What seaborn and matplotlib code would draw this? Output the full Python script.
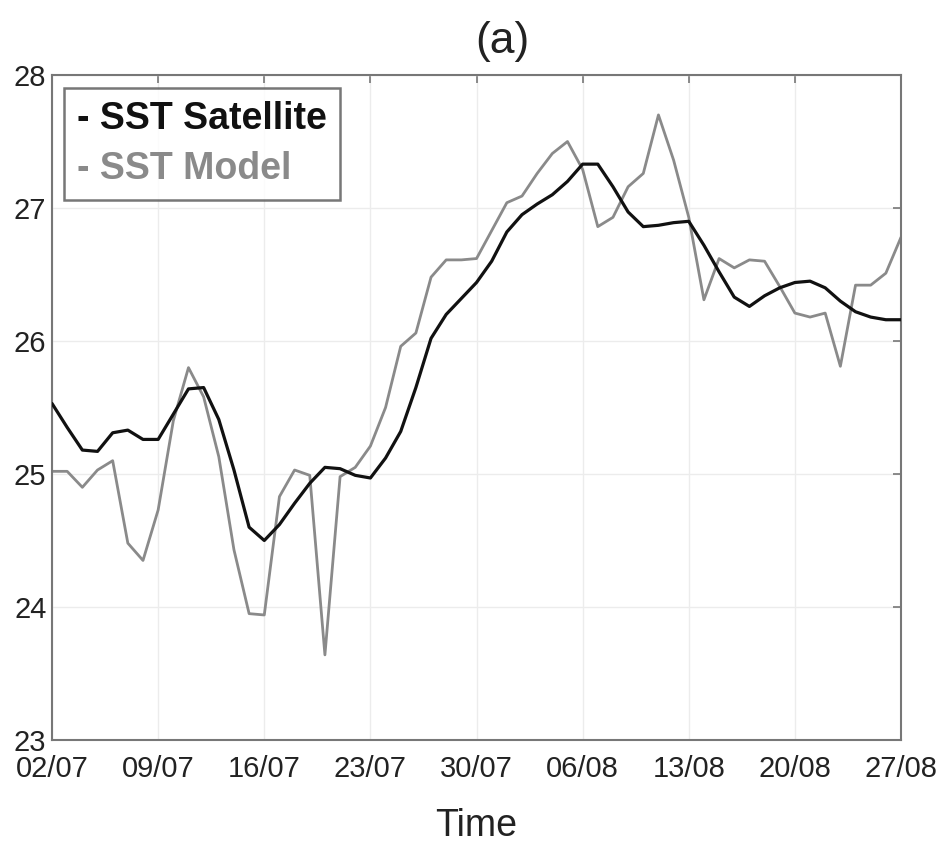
import numpy as np
import pandas as pd
import matplotlib
matplotlib.use("Agg")
import matplotlib.pyplot as plt
import seaborn as sns

# Day index from 02/07 (day 0) to 27/08 (day 56)
days = list(range(57))
tick_days = [0, 7, 14, 21, 28, 35, 42, 49, 56]
tick_labels = ["02/07", "09/07", "16/07", "23/07", "30/07", "06/08", "13/08", "20/08", "27/08"]

sst_satellite = [25.53, 25.35, 25.18, 25.17, 25.31, 25.33, 25.26, 25.26, 25.45, 25.64,
                 25.65, 25.41, 25.03, 24.60, 24.50, 24.62, 24.78, 24.93, 25.05, 25.04,
                 24.99, 24.97, 25.12, 25.32, 25.65, 26.02, 26.20, 26.32, 26.44, 26.60,
                 26.82, 26.95, 27.03, 27.10, 27.20, 27.33, 27.33, 27.16, 26.97, 26.86,
                 26.87, 26.89, 26.90, 26.72, 26.52, 26.33, 26.26, 26.34, 26.40, 26.44,
                 26.45, 26.40, 26.30, 26.22, 26.18, 26.16, 26.16]

sst_model = [25.02, 25.02, 24.90, 25.03, 25.10, 24.48, 24.35, 24.73, 25.40, 25.80,
             25.58, 25.13, 24.43, 23.95, 23.94, 24.83, 25.03, 24.99, 23.64, 24.98,
             25.05, 25.21, 25.50, 25.96, 26.06, 26.48, 26.61, 26.61, 26.62, 26.83,
             27.04, 27.09, 27.26, 27.41, 27.50, 27.29, 26.86, 26.93, 27.16, 27.26,
             27.70, 27.36, 26.93, 26.31, 26.62, 26.55, 26.61, 26.60, 26.41, 26.21,
             26.18, 26.21, 25.81, 26.42, 26.42, 26.51, 26.78]

series_names = ["- SST Satellite", "- SST Model"]
series_colors = ["#111111", "#8a8a8a"]

df = pd.DataFrame({
    "day": days * 2,
    "sst": sst_satellite + sst_model,
    "series": [series_names[0]] * len(days) + [series_names[1]] * len(days),
})

sns.set_theme(style="white")
plt.rcParams["font.family"] = ["Liberation Sans", "DejaVu Sans"]

fig = plt.figure(figsize=(9.41, 8.43), dpi=100)
ax = fig.add_axes([0.0553, 0.1222, 0.9022, 0.7888])

sns.lineplot(data=df, x="day", y="sst", hue="series", palette=series_colors,
             hue_order=series_names, ax=ax, legend=False, sort=False)
lines = ax.get_lines()
lines[0].set_linewidth(2.3)
lines[1].set_linewidth(2.0)
lines[0].set_zorder(3)
lines[1].set_zorder(2)

ax.set_xlim(0, 56)
ax.set_ylim(23, 28)
ax.set_xticks(tick_days)
ax.set_xticklabels(tick_labels)
ax.set_yticks([23, 24, 25, 26, 27, 28])
ax.set_yticklabels(["23", "24", "25", "26", "27", "28"])

ax.grid(True, color="#ececec", linewidth=1.0)
ax.set_axisbelow(True)
for s in ax.spines.values():
    s.set_visible(True)
    s.set_color("#777777")
    s.set_linewidth(1.5)

ax.tick_params(axis="both", which="both", direction="in", length=6, width=1.2,
               color="#777777", top=True, right=True, labelsize=21,
               labelcolor="#222222", pad=4)
ax.tick_params(axis="x", pad=11)

ax.set_xlabel("Time", fontsize=27, color="#222222", labelpad=18)
ax.set_ylabel("")
ax.set_title("(a)", fontsize=32, color="#222222", x=0.53, pad=16)

handles = [plt.Line2D([], [], color=c, linewidth=0) for c in series_colors]
leg = ax.legend(handles, series_names, loc="upper left", handlelength=0,
                handletextpad=0, frameon=True, fancybox=False,
                prop={"weight": "bold", "size": 27},
                borderpad=0.35, labelspacing=0.35, borderaxespad=0,
                bbox_to_anchor=(0.014, 0.98))
frame = leg.get_frame()
frame.set_edgecolor("#555555")
frame.set_linewidth(1.8)
for t, c in zip(leg.get_texts(), series_colors):
    t.set_color(c)

fig.savefig("out.png", dpi=100, facecolor="white")
